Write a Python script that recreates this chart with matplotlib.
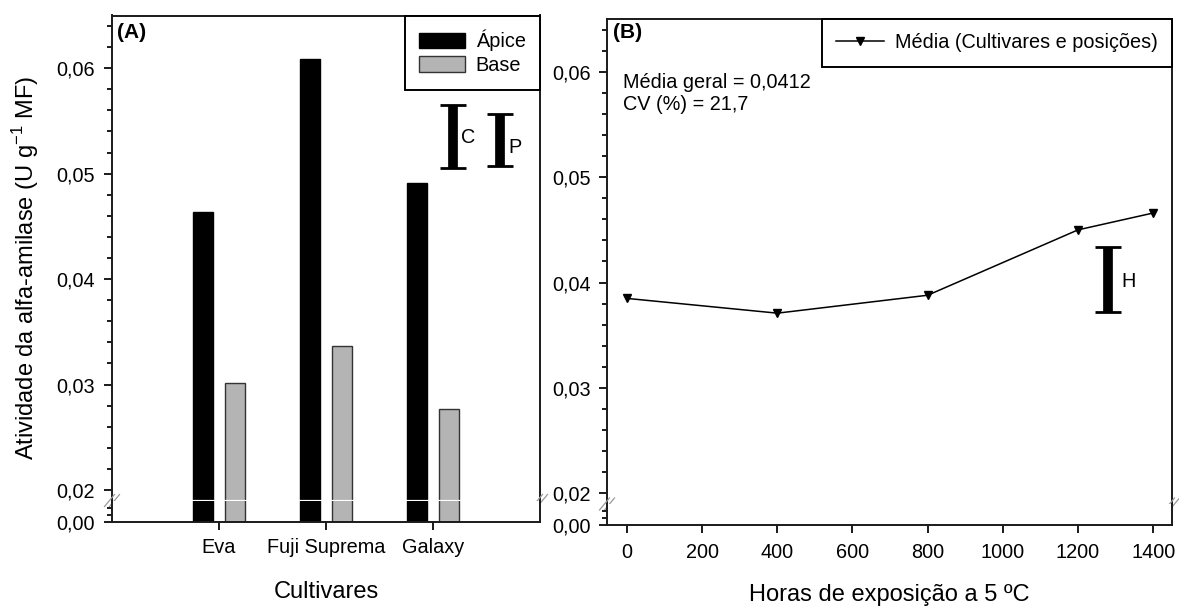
import numpy as np
import matplotlib
matplotlib.use("Agg")
import matplotlib.pyplot as plt
from matplotlib.ticker import FixedLocator, FuncFormatter

plt.rcParams['font.family'] = ['Liberation Sans', 'DejaVu Sans']
plt.rcParams['mathtext.fontset'] = 'custom'
plt.rcParams['mathtext.rm'] = 'Liberation Sans'

# dados (A) cultivares x posicao
cultivares = ['Eva', 'Fuji Suprema', 'Galaxy']
apice = [0.04635, 0.0609, 0.0491]
base = [0.0301, 0.0337, 0.0277]
# barras de DMS (A)
dms_pos_x = [3.19, 3.63]
dms_centro = [0.0535, 0.0532]
dms_meia = [0.0030, 0.00248]
dms_nomes = ['C', 'P']

# dados (B) horas de exposicao
horas = [0, 400, 800, 1200, 1400]
media = [0.0385, 0.0371, 0.0388, 0.0450, 0.0466]
dms_h_x = [1280]
dms_h_centro = [0.0403]
dms_h_meia = [0.00305]

W, H = 1179, 608
fig = plt.figure(figsize=(W / 100, H / 100), dpi=100)

def fx(px):
    return px / W

def fy(px):
    return 1 - px / H

fs = 14.3
fs_lab = 17
spine_c = '#1a1a1a'
y_lo, y_hi = 0.019, 0.065


def fmt(v, pos):
    return f"{v:.2f}".replace('.', ',')


def style_pair(ax_up, ax_lo, ypad):
    for ax in (ax_up, ax_lo):
        for s in ax.spines.values():
            s.set_linewidth(1.4)
            s.set_color(spine_c)
        ax.tick_params(axis='y', which='major', length=6, width=1.4, direction='out',
                       labelsize=fs, pad=ypad, colors=spine_c, labelcolor='black')
        ax.tick_params(axis='y', which='minor', length=3.6, width=1.4, direction='out',
                       colors=spine_c)
    ax_up.spines['bottom'].set_visible(False)
    ax_lo.spines['top'].set_visible(False)
    ax_up.tick_params(axis='x', which='both', bottom=False, labelbottom=False)
    ax_up.set_ylim(y_lo, y_hi)
    ax_up.yaxis.set_major_locator(FixedLocator([0.02, 0.03, 0.04, 0.05, 0.06]))
    ax_up.yaxis.set_minor_locator(FixedLocator(np.arange(0.022, 0.065, 0.002)))
    ax_up.yaxis.set_major_formatter(FuncFormatter(fmt))
    ax_lo.set_ylim(0, 0.006)
    ax_lo.yaxis.set_major_locator(FixedLocator([0.0]))
    ax_lo.yaxis.set_minor_locator(FixedLocator([0.002, 0.004]))
    ax_lo.yaxis.set_major_formatter(FuncFormatter(fmt))


def break_marks(ax, ypx_h, xpx_w, sides=(0, 1)):
    dx = 5 / xpx_w
    dy = 6 / ypx_h
    off = 2.5 / xpx_w
    for sx in sides:
        for o in (-off, off):
            ax.plot([sx - dx + o, sx + dx + o], [-dy, dy], transform=ax.transAxes,
                    color='#9a9a9a', lw=0.9, clip_on=False, zorder=5)


# ---------------- painel A ----------------
axA = fig.add_axes([fx(112), fy(500.5), fx(428), (500.5 - 15.5) / H])
axA_lo = fig.add_axes([fx(112), fy(521.5), fx(428), 21 / H])
style_pair(axA, axA_lo, 6.5)

x = np.arange(1, len(cultivares) + 1)
w = 0.19
for ax in (axA, axA_lo):
    ax.bar(x - 0.15, apice, w, color='black', edgecolor='black', lw=1, label='Ápice')
    ax.bar(x + 0.15, base, w, color='#b4b4b4', edgecolor='#333333', lw=1, label='Base')
    ax.set_xlim(0, 4)
axA.axhline(y_lo, xmin=0.01, xmax=0.99, color='white', lw=1.6, zorder=4, clip_on=False)

axA_lo.set_xticks(x)
axA_lo.set_xticklabels(cultivares)
axA_lo.tick_params(axis='x', length=5.5, width=1.4, labelsize=fs, pad=6.5, colors=spine_c,
                   labelcolor='black')

axA.errorbar(dms_pos_x, dms_centro, yerr=dms_meia, fmt='none', ecolor='black',
             elinewidth=7, capsize=9.7, capthick=2, zorder=3)
for xi, yi, nm in zip(dms_pos_x, dms_centro, dms_nomes):
    axA.text(xi + 0.075, yi - 0.00005 if nm == 'C' else yi - 0.0007, nm, fontsize=fs,
             va='center', ha='left')

leg = axA.legend(loc='upper right', borderaxespad=0, fancybox=False, edgecolor='black',
                 framealpha=1, fontsize=fs, handlelength=2.3, handleheight=0.85,
                 handletextpad=0.55, borderpad=0.72, labelspacing=0.25)
leg.get_frame().set_linewidth(1.4)

break_marks(axA, 485, 428)

fig.text(fx(117), fy(33), '(A)', fontsize=15, fontweight='bold', va='center', ha='left')
fig.text(fx(26), fy(268), 'Atividade da alfa-amilase (U g$^{\\mathregular{-1}}$ MF)',
         fontsize=fs_lab, rotation=90, va='center', ha='center')
fig.text(fx(326), fy(592), 'Cultivares', fontsize=fs_lab, va='center', ha='center')

# ---------------- painel B ----------------
axB = fig.add_axes([fx(607), fy(504), fx(565), (504 - 19) / H])
axB_lo = fig.add_axes([fx(607), fy(525), fx(565), 21 / H])
style_pair(axB, axB_lo, 5.5)
for ax in (axB, axB_lo):
    ax.set_xlim(-53, 1450)

axB.plot(horas, media, color='black', lw=1.1, marker='v', markersize=6,
         label='Média (Cultivares e posições)')
axB_lo.set_xticks(np.arange(0, 1401, 200))
axB_lo.tick_params(axis='x', length=5.5, width=1.4, labelsize=fs, pad=7.5, colors=spine_c,
                   labelcolor='black')

axB.errorbar(dms_h_x, dms_h_centro, yerr=dms_h_meia, fmt='none', ecolor='black',
             elinewidth=7, capsize=9.7, capthick=2, zorder=3)
axB.text(dms_h_x[0] + 35, dms_h_centro[0] - 0.0002, 'H', fontsize=fs, va='center', ha='left')

legB = axB.legend(loc='upper right', borderaxespad=0, fancybox=False, edgecolor='black',
                  framealpha=1, fontsize=fs, handlelength=2.4, handletextpad=0.55,
                  borderpad=0.72, numpoints=1)
legB.get_frame().set_linewidth(1.4)

break_marks(axB, 485, 565)

fig.text(fx(613), fy(33), '(B)', fontsize=15, fontweight='bold', va='center', ha='left')
fig.text(fx(623), fy(82), 'Média geral = 0,0412', fontsize=fs, va='center', ha='left')
fig.text(fx(623), fy(105), 'CV (%) = 21,7', fontsize=fs, va='center', ha='left')
fig.text(fx(889.5), fy(595), 'Horas de exposição a 5 ºC', fontsize=fs_lab, va='center',
         ha='center')

fig.savefig('out.png', dpi=100)
